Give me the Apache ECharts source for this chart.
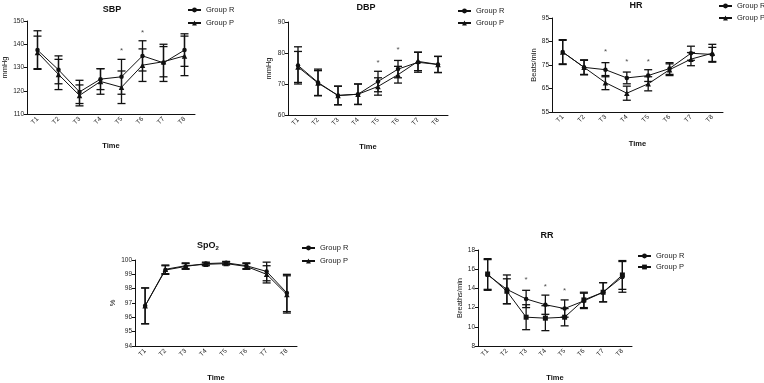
<!DOCTYPE html>
<html>
<head>
<meta charset="utf-8">
<script src="https://cdn.jsdelivr.net/npm/echarts@6/dist/echarts.min.js"></script>
<style>
html,body{margin:0;padding:0;background:#fff;}
#container{width:764px;height:383px;}
</style>
</head>
<body>
<div id="container"></div>
<script>
var times = ['T1','T2','T3','T4','T5','T6','T7','T8'];

// SBP (mmHg)
var sbpR = [137.5, 129, 119.5, 125, 126, 135, 132, 137.5];
var sbpRsd = [8.3, 6, 5, 4.5, 7.5, 6.5, 8, 7];
var sbpP = [136.5, 127, 118, 124, 121.5, 131, 132.5, 135];
var sbpPsd = [7, 6.5, 4.5, 5.5, 7, 7, 6.5, 8.5];
var sbpStar = [null, null, null, null, 137, 145, null, null];

// DBP (mmHg)
var dbpR = [76, 70.5, 66.3, 66.7, 70.8, 74.8, 77, 76.3];
var dbpRsd = [6, 4.3, 3, 3.3, 3.3, 2.8, 3.2, 2.6];
var dbpP = [75.5, 70.3, 66.3, 66.7, 69.2, 73, 77.3, 76.3];
var dbpPsd = [5, 4, 3, 3.3, 2.8, 2.7, 3, 2.6];
var dbpStar = [null, null, null, null, 77, 81, null, null];

// HR (Beats/min)
var hrR = [80.5, 74, 73, 69.5, 70.5, 73.5, 80, 79.5];
var hrRsd = [5.3, 3.2, 3, 2.5, 2.5, 2.5, 3, 3];
var hrP = [80.5, 74, 67.5, 63, 67, 73, 77.5, 80];
var hrPsd = [5, 3, 3, 3, 3, 2.5, 2.8, 3.8];
var hrStar = [null, null, 80.5, 76.5, 76.5, null, null, null];

// SpO2 (%)
var spoR = [96.8, 99.3, 99.55, 99.75, 99.8, 99.6, 99.2, 97.7];
var spoRsd = [1.25, 0.3, 0.2, 0.1, 0.1, 0.2, 0.65, 1.3];
var spoP = [96.8, 99.35, 99.6, 99.7, 99.75, 99.55, 99.0, 97.6];
var spoPsd = [1.25, 0.3, 0.2, 0.1, 0.1, 0.2, 0.6, 1.3];

// RR (Breaths/min)
var rrR = [15.4, 13.9, 12.9, 12.3, 11.9, 12.7, 13.6, 15.2];
var rrRsd = [1.6, 1.5, 0.9, 1.0, 0.9, 0.8, 1.0, 1.6];
var rrP = [15.5, 13.7, 11.0, 10.9, 11.0, 12.8, 13.6, 15.4];
var rrPsd = [1.6, 1.3, 1.3, 1.3, 0.9, 0.8, 1.0, 1.5];
var rrStar = [null, null, 14.9, 14.2, 13.8, null, null, null];

var FONT = 'Liberation Sans';

var panels = [
  {title:'SBP', unit:'mmHg', R:sbpR, Rsd:sbpRsd, P:sbpP, Psd:sbpPsd, star:sbpStar, pSym:'triangle', pName:'Group P',
   min:110, max:150, ticks:[110,120,130,140,150],
   grid:{left:27, top:21, width:168, height:93}, tx:112, ty:5, lg:{left:187, top:6, gap:5}},
  {title:'DBP', unit:'mmHg', R:dbpR, Rsd:dbpRsd, P:dbpP, Psd:dbpPsd, star:dbpStar, pSym:'triangle', pName:'Group P',
   min:60, max:90, ticks:[60,70,80,90],
   grid:{left:288, top:22, width:160, height:93}, tx:366, ty:3, lg:{left:457, top:7, gap:4}},
  {title:'HR', unit:'Beats/min', R:hrR, Rsd:hrRsd, P:hrP, Psd:hrPsd, star:hrStar, pSym:'triangle', pName:'Group P',
   min:55, max:95, ticks:[55,65,75,85,95],
   grid:{left:552, top:18, width:171, height:94}, tx:636, ty:1, lg:{left:718, top:2, gap:4}},
  {title:'SpO{s|2}', unit:'%', R:spoR, Rsd:spoRsd, P:spoP, Psd:spoPsd, star:null, pSym:'triangle', pName:'Group P',
   min:94, max:100, ticks:[94,95,96,97,98,99,100],
   grid:{left:135, top:260, width:162, height:89}, tx:208, ty:241, lg:{left:301, top:244, gap:5}},
  {title:'RR', unit:'Breaths/min', R:rrR, Rsd:rrRsd, P:rrP, Psd:rrPsd, star:rrStar, pSym:'rect', pName:'Group P ',
   min:8, max:18, ticks:[8,10,12,14,16,18],
   grid:{left:478, top:250, width:154, height:99}, tx:547, ty:231, lg:{left:637, top:252, gap:3}}
];

function errData(m, sd) {
  var res = [];
  for (var i = 0; i < m.length; i++) res.push([i, m[i] - sd[i], m[i] + sd[i]]);
  return res;
}

function renderErr(params, api) {
  var lo = api.coord([api.value(0), api.value(1)]);
  var hi = api.coord([api.value(0), api.value(2)]);
  var w = 4;
  var st = {stroke:'#111', lineWidth:1.3};
  return {type:'group', children:[
    {type:'line', shape:{x1:lo[0], y1:lo[1], x2:hi[0], y2:hi[1]}, style:st},
    {type:'line', shape:{x1:hi[0]-w, y1:hi[1], x2:hi[0]+w, y2:hi[1]}, style:st},
    {type:'line', shape:{x1:lo[0]-w, y1:lo[1], x2:lo[0]+w, y2:lo[1]}, style:st}
  ]};
}

var option = {
  backgroundColor:'#fff',
  animation:false,
  title:[], legend:[], grid:[], xAxis:[], yAxis:[], series:[]
};

panels.forEach(function (p, k) {
  option.title.push({
    text:p.title, left:p.tx, top:p.ty, textAlign:'center', padding:0,
    textStyle:{fontFamily:FONT, fontSize:9, fontWeight:'bold', color:'#111',
      rich:{s:{fontFamily:FONT, fontSize:6, fontWeight:'bold', verticalAlign:'bottom', padding:[4,0,0,0]}}}
  });
  option.legend.push({
    data:['Group R', p.pName], orient:'vertical', left:p.lg.left, top:p.lg.top, padding:0,
    itemWidth:13, itemHeight:6, itemGap:p.lg.gap, selectedMode:false,
    textStyle:{fontFamily:FONT, fontSize:7.5, color:'#222'}
  });
  option.grid.push(p.grid);
  option.xAxis.push({
    type:'category', gridIndex:k, data:times, name:'Time', nameLocation:'middle', nameGap:28,
    nameTextStyle:{fontFamily:FONT, fontSize:7.5, fontWeight:'bold', color:'#111'},
    axisLine:{lineStyle:{color:'#111', width:1}},
    axisTick:{alignWithLabel:true, length:3, lineStyle:{color:'#111'}},
    axisLabel:{rotate:45, fontFamily:FONT, fontSize:6.5, color:'#222', margin:4, interval:0}
  });
  option.yAxis.push({
    type:'value', gridIndex:k, min:p.min, max:p.max,
    name:p.unit, nameLocation:'middle', nameRotate:90, nameGap:p.unit === '%' ? 18 : (p.unit.length > 5 ? 14 : 15),
    nameTextStyle:{fontFamily:FONT, fontSize:7.5, color:'#111'},
    axisLine:{show:true, lineStyle:{color:'#111', width:1}},
    axisTick:{show:true, length:3, lineStyle:{color:'#111'}, customValues:p.ticks},
    axisLabel:{fontFamily:FONT, fontSize:6.5, color:'#222', margin:3, customValues:p.ticks},
    splitLine:{show:false}
  });
  option.series.push({
    type:'custom', name:'errR' + k, xAxisIndex:k, yAxisIndex:k, renderItem:renderErr,
    data:errData(p.R, p.Rsd), z:2
  });
  option.series.push({
    type:'custom', name:'errP' + k, xAxisIndex:k, yAxisIndex:k, renderItem:renderErr,
    data:errData(p.P, p.Psd), z:2
  });
  option.series.push({
    type:'line', name:'Group R', xAxisIndex:k, yAxisIndex:k, data:p.R,
    symbol:'circle', symbolSize:4.5, itemStyle:{color:'#111'},
    lineStyle:{color:'#111', width:1}, z:3
  });
  option.series.push({
    type:'line', name:p.pName, xAxisIndex:k, yAxisIndex:k, data:p.P,
    symbol:p.pSym, symbolSize:p.pSym === 'rect' ? 5 : 5.5, itemStyle:{color:'#111'},
    lineStyle:{color:'#111', width:1}, z:3
  });
  if (p.star) {
    var sd = [];
    p.star.forEach(function (v, i) { if (v !== null) sd.push([i, v]); });
    option.series.push({
      type:'scatter', name:'star' + k, xAxisIndex:k, yAxisIndex:k, data:sd,
      symbolSize:1, itemStyle:{color:'rgba(0,0,0,0)'},
      label:{show:true, position:'inside', formatter:'*', fontFamily:FONT, fontSize:8, color:'#222'}
    });
  }
});

var myChart = echarts.init(document.getElementById('container'));
myChart.setOption(option);
</script>
</body>
</html>
